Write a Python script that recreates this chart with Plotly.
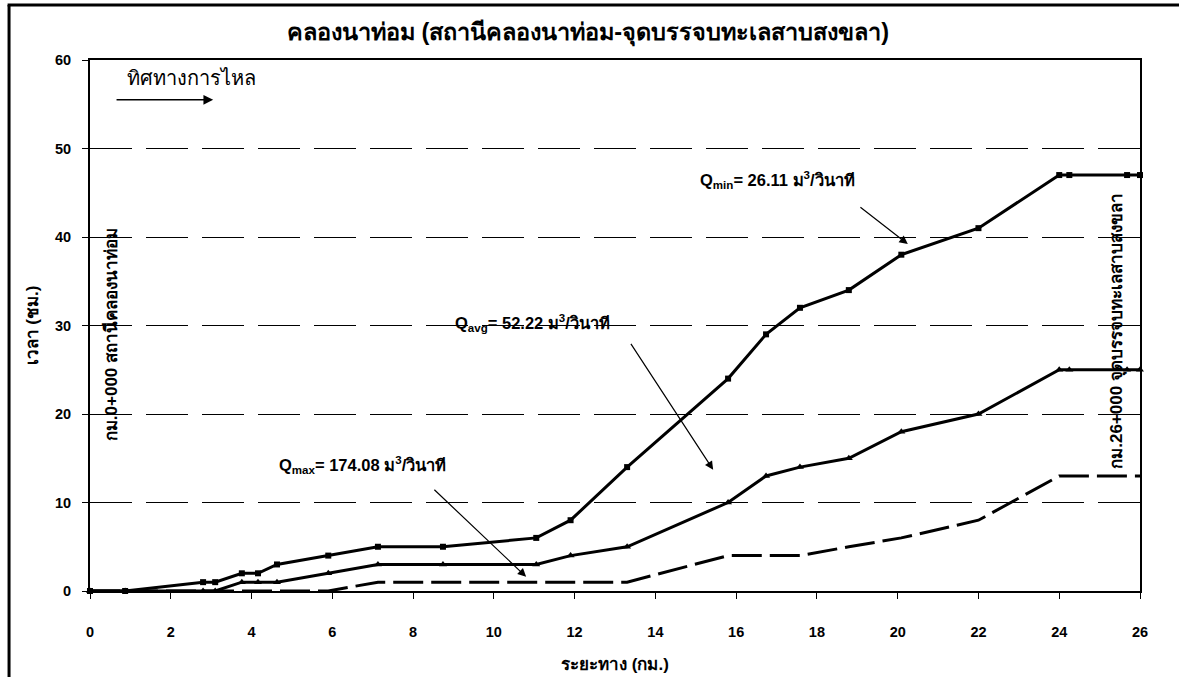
import plotly.graph_objects as go

# distances (km)
dist = [0, 0.87, 2.8, 3.1, 3.76, 4.16, 4.63, 5.9, 7.13, 8.74, 11.05, 11.9, 13.3,
        15.8, 16.74, 17.58, 18.79, 20.09, 22.0, 24.0, 24.25, 25.68, 26.0]
# travel time (hr)
q_min = [0, 0, 1, 1, 2, 2, 3, 4, 5, 5, 6, 8, 14, 24, 29, 32, 34, 38, 41, 47, 47, 47, 47]
q_avg = [0, 0, 0, 0, 1, 1, 1, 2, 3, 3, 3, 4, 5, 10, 13, 14, 15, 18, 20, 25, 25, 25, 25]
q_max = [0, 0, 0, 0, 0, 0, 0, 0, 1, 1, 1, 1, 1, 4, 4, 4, 5, 6, 8, 13, 13, 13, 13]

x_ticks = [0, 2, 4, 6, 8, 10, 12, 14, 16, 18, 20, 22, 24, 26]
y_ticks = [0, 10, 20, 30, 40, 50, 60]

title = "คลองนาท่อม (สถานีคลองนาท่อม-จุดบรรจบทะเลสาบสงขลา)"
x_title = "ระยะทาง (กม.)"
y_title = "เวลา (ชม.)"
flow_text = "ทิศทางการไหล"
left_label = "กม.0+000 สถานีคลองนาท่อม"
right_label = "กม.26+000 จุดบรรจบทะเลสาบสงขลา"
lbl_min = "Q<sub>min</sub>= 26.11 ม<sup>3</sup>/วินาที"
lbl_avg = "Q<sub>avg</sub>= 52.22 ม<sup>3</sup>/วินาที"
lbl_max = "Q<sub>max</sub>= 174.08 ม<sup>3</sup>/วินาที"

FONT = "Liberation Sans, Arial, Tahoma, sans-serif"

fig = go.Figure()
fig.add_trace(go.Scatter(x=dist, y=q_max, mode="lines",
                         line=dict(color="black", width=3, dash="30px,8px"),
                         showlegend=False, cliponaxis=False))
fig.add_trace(go.Scatter(x=dist, y=q_avg, mode="lines+markers",
                         line=dict(color="black", width=3),
                         marker=dict(symbol="triangle-up", size=7, color="black"),
                         showlegend=False, cliponaxis=False))
fig.add_trace(go.Scatter(x=dist, y=q_min, mode="lines+markers",
                         line=dict(color="black", width=3),
                         marker=dict(symbol="square", size=6, color="black"),
                         showlegend=False, cliponaxis=False))

ann = []
ann.append(dict(x=0.474, y=1.0508, xref="paper", yref="paper", text="<b>" + title + "</b>",
                xanchor="center", yanchor="middle",
                showarrow=False, font=dict(size=23.5, family=FONT, color="black")))
ann.append(dict(x=0.87, y=58.0, xref="x", yref="y", text=flow_text, xanchor="left", yanchor="middle",
                showarrow=False, font=dict(size=20, family=FONT, color="black")))
ann.append(dict(x=3.05, y=55.5, ax=0.62, ay=55.5, xref="x", yref="y", axref="x", ayref="y",
                text="", showarrow=True, arrowhead=2, arrowsize=1.3, arrowwidth=1.5, arrowcolor="black"))
ann.append(dict(x=15.06, y=46.4, xref="x", yref="y", text="<b>" + lbl_min + "</b>", xanchor="left",
                yanchor="middle",
                showarrow=False, font=dict(size=16.5, family=FONT, color="black")))
ann.append(dict(x=8.99, y=30.3, xref="x", yref="y", text="<b>" + lbl_avg + "</b>", xanchor="left",
                yanchor="middle",
                showarrow=False, font=dict(size=16.5, family=FONT, color="black")))
ann.append(dict(x=4.63, y=14.2, xref="x", yref="y", text="<b>" + lbl_max + "</b>", xanchor="left",
                yanchor="middle",
                showarrow=False, font=dict(size=16.5, family=FONT, color="black")))
for (hx, hy, tx, ty) in [(20.25, 39.2, 19.04, 43.5), (15.43, 13.7, 13.37, 28.1), (10.8, 1.6, 8.49, 11.6)]:
    ann.append(dict(x=hx, y=hy, ax=tx, ay=ty, xref="x", yref="y", axref="x", ayref="y",
                    text="", showarrow=True, arrowhead=2, arrowsize=1.4, arrowwidth=1.2, arrowcolor="black"))
ann.append(dict(x=0.54, y=29.0, xref="x", yref="y", text="<b>" + left_label + "</b>", textangle=-90,
                xanchor="center", yanchor="middle",
                showarrow=False, font=dict(size=17, family=FONT, color="black")))
ann.append(dict(x=25.43, y=29.4, xref="x", yref="y", text="<b>" + right_label + "</b>", textangle=-90,
                xanchor="center", yanchor="middle",
                showarrow=False, font=dict(size=17, family=FONT, color="black")))

shapes = [
    dict(type="line", xref="paper", yref="paper", x0=-0.0771, x1=-0.0771, y0=-0.3, y1=1.1036,
         line=dict(color="black", width=3)),
    dict(type="line", xref="paper", yref="paper", x0=-0.0785, x1=1.1, y0=1.1036, y1=1.1036,
         line=dict(color="black", width=3)),
]

fig.update_layout(
    width=1179, height=677,
    margin=dict(l=90, r=39, t=60, b=86),
    paper_bgcolor="white", plot_bgcolor="white",
    annotations=ann, shapes=shapes,
    font=dict(family=FONT, color="black"),
)
fig.update_xaxes(range=[0, 26], tickvals=x_ticks, showgrid=False, zeroline=False,
                 showline=True, linecolor="black", linewidth=2, mirror=True,
                 ticks="outside", ticklen=6, tickcolor="black", tickwidth=1,
                 ticklabelstandoff=21, automargin=False,
                 tickfont=dict(size=14.5, family=FONT, color="black", weight="bold"),
                 title=dict(text="<b>" + x_title + "</b>", standoff=19,
                            font=dict(size=17, family=FONT, color="black")))
fig.update_yaxes(range=[0, 60], tickvals=y_ticks, showgrid=True, gridcolor="black", gridwidth=1,
                 griddash="42px,14px", zeroline=False, automargin=False,
                 showline=True, linecolor="black", linewidth=2, mirror=True,
                 ticks="outside", ticklen=6, tickcolor="black", tickwidth=1,
                 ticklabelstandoff=8,
                 tickfont=dict(size=14.5, family=FONT, color="black", weight="bold"),
                 title=dict(text="<b>" + y_title + "</b>", standoff=12,
                            font=dict(size=17, family=FONT, color="black")))

fig.write_html("out.html", config={"displayModeBar": False},
               post_script="document.body.style.margin='0';document.body.style.overflow='hidden';")
